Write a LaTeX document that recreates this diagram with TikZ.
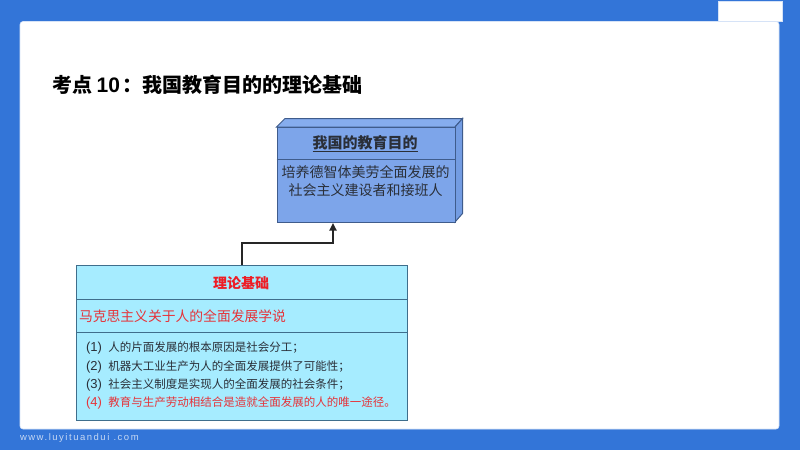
\documentclass[tikz,border=0pt]{standalone}
\usepackage{fontspec}
\setmainfont{Noto Sans CJK SC}
\newfontfamily\latinf{Liberation Sans}
\usetikzlibrary{arrows.meta}
\definecolor{bgblue}{HTML}{3375D8}
\definecolor{boxblue}{HTML}{7DA5EA}
\definecolor{sideblue}{HTML}{739CE2}
\definecolor{topblue}{HTML}{86ADEE}
\definecolor{cyanbox}{HTML}{A6ECFF}
\definecolor{edgeblue}{HTML}{3F5C8C}
\definecolor{edgecyan}{HTML}{3F6E8C}
\definecolor{redtxt}{HTML}{EE1C25}
\definecolor{redsoft}{HTML}{E5343A}
\definecolor{inkdark}{HTML}{2A2F38}
\newcommand{\fs}[1]{\fontsize{#1}{#1}\selectfont}
\newcommand{\mk}[1]{{\latinf\fs{13}(#1)}\hspace{6.5pt}}
\tikzset{
  x=1pt,y=-1pt,
  txt/.style={inner sep=0pt,outer sep=0pt,text=inkdark},
  edgeA/.style={draw=edgeblue,line width=1pt},
  edgeB/.style={draw=edgecyan,line width=1pt},
  flow/.style={draw=black!85,line width=1.7pt,-{Triangle[length=7.5pt,width=7pt]}},
}
\begin{document}
\begin{tikzpicture}
\useasboundingbox (0,0) rectangle (800,450);
\fill[bgblue] (0,0) rectangle (800,450);
% tab and card
\fill[white,draw=white!80!bgblue,line width=.6pt] (718,1.5) rectangle (782,21);
\fill[white,draw=white!80!bgblue,line width=.6pt,rounded corners=3pt] (20,21.5) rectangle (779,429);
% title
\node[txt,anchor=west,text=black] (title) at (52,85) {\fs{20}\bfseries 考点 {\latinf\fs{21}10}\hspace{3pt}：我国教育目的的理论基础};
% upper box
\fill[topblue,edgeA] (276.5,127) -- (285,118.5) -- (462.5,118.5) -- (455,127) -- cycle;
\fill[sideblue,edgeA] (455,127) -- (462.5,118.5) -- (462.5,213.5) -- (455,222) -- cycle;
\node[edgeA,fill=boxblue,minimum width=178.5pt,minimum height=95pt,inner sep=0pt,anchor=north west] (goal) at (276.5,127) {};
\draw[edgeA] (276.5,159) -- (455,159);
\node[txt] (goalhead) at (365,144) {\fs{15}\bfseries\underline{我国的教育目的}};
\node[txt] (goalone) at (365.5,172) {\fs{14}培养德智体美劳全面发展的};
\node[txt] (goaltwo) at (365.5,190.5) {\fs{14}社会主义建设者和接班人};
% lower box
\node[edgeB,fill=cyanbox,minimum width=331pt,minimum height=155pt,inner sep=0pt,anchor=north west] (base) at (76,265) {};
\draw[edgeB] (76,299) -- (407,299);
\draw[edgeB] (76,332) -- (407,332);
\node[txt,text=redtxt] (basehead) at (241,283) {\fs{14}\bfseries 理论基础};
\node[txt,text=redsoft,anchor=west] (marx) at (79,316) {\fs{13.8}马克思主义关于人的全面发展学说};
\node[txt,anchor=west] (lone) at (86,348) {\mk{1}\fs{11.5}人的片面发展的根本原因是社会分工；};
\node[txt,anchor=west] (ltwo) at (86,367) {\mk{2}\fs{11.5}机器大工业生产为人的全面发展提供了可能性；};
\node[txt,anchor=west] (lthree) at (86,385) {\mk{3}\fs{11.5}社会主义制度是实现人的全面发展的社会条件；};
\node[txt,anchor=west,text=redsoft] (lfour) at (86,403) {\mk{4}\fs{11.5}教育与生产劳动相结合是造就全面发展的人的唯一途径。};
% connector
\coordinate (from) at (242,265);
\coordinate (to) at (333,223);
\draw[flow] (from) -- (242,243) -- (333,243) -- (to);
% footer
\node[txt,anchor=west,text=white!72!bgblue] (foot) at (20,438) {\latinf\fs{9.5}\addfontfeature{LetterSpace=16}www.luyituandui .com};
\end{tikzpicture}
\end{document}
